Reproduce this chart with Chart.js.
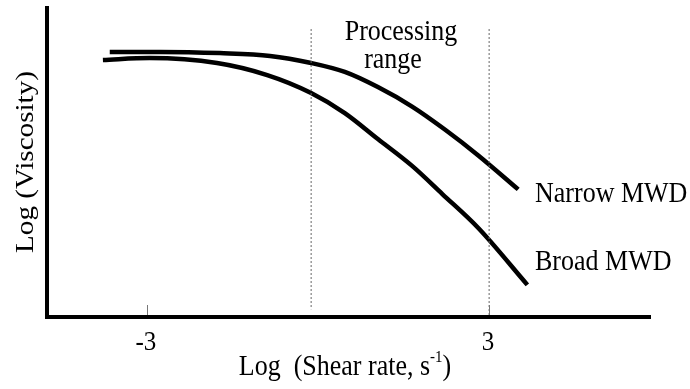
<!DOCTYPE html>
<html>
<head>
<meta charset="utf-8">
<script src="https://cdn.jsdelivr.net/npm/chart.js@4.4.0/dist/chart.umd.min.js"></script>
<style>
html,body{margin:0;padding:0;background:#fff;}
#wrap{width:690px;height:389px;}
</style>
</head>
<body>
<div id="wrap"><canvas id="c" width="690" height="389"></canvas></div>
<script>
// ---- data (log shear rate, log viscosity in arbitrary units) ----
const narrowX = [-3.65, -2.77, -1.72, -0.84, -0.12, 0.47, 1.05, 1.65, 2.23, 2.81, 3.51];
const narrowY = [8.58, 8.58, 8.54, 8.45, 8.22, 7.93, 7.44, 6.81, 6.06, 5.23, 4.13];
const broadX  = [-3.77, -2.95, -1.77, -0.89, -0.12, 0.47, 1.05, 1.65, 2.18, 2.81, 3.67];
const broadY  = [8.32, 8.38, 8.22, 7.83, 7.25, 6.60, 5.76, 4.89, 3.98, 2.88, 1.04];
const rangeBounds = [-0.12, 3.0];
const rangeTop = 9.32;
const tickValues = [-3, 3];
const xMin = -4.75, xMax = 5.82, yMin = 0, yMax = 10;
const labels = {
  xTitle: 'Log  (Shear rate, s',
  xTitleSup: '-1',
  yTitle: 'Log (Viscosity)',
  range1: 'Processing',
  range2: 'range',
  narrow: 'Narrow MWD',
  broad: 'Broad MWD'
};

const pts = (xs, ys) => xs.map((x, i) => ({x, y: ys[i]}));
const FONT = '"Liberation Serif", "Times New Roman", serif';
const STRETCH = 1.12;

function txt(ctx, s, x, y, align, size) {
  ctx.save();
  ctx.font = size + 'px ' + FONT;
  ctx.textAlign = align;
  ctx.translate(x, y);
  ctx.scale(1, STRETCH);
  ctx.fillText(s, 0, 0);
  ctx.restore();
}

const annot = {
  id: 'annot',
  afterDraw(chart) {
    const ctx = chart.ctx;
    const xs = chart.scales.x;
    const ca = chart.chartArea;
    ctx.save();
    // inward tick marks
    ctx.strokeStyle = '#777';
    ctx.lineWidth = 1;
    tickValues.forEach(v => {
      const px = Math.round(xs.getPixelForValue(v)) + 0.5;
      ctx.beginPath();
      ctx.moveTo(px, ca.bottom - 2);
      ctx.lineTo(px, ca.bottom - 12);
      ctx.stroke();
    });
    ctx.fillStyle = '#000';
    ctx.textBaseline = 'alphabetic';
    txt(ctx, labels.range1, 401, 40, 'center', 26);
    txt(ctx, labels.range2, 393, 68, 'center', 26);
    txt(ctx, labels.narrow, 535, 202, 'left', 26);
    txt(ctx, labels.broad, 535, 270, 'left', 26);
    // tick labels
    tickValues.forEach(v => {
      txt(ctx, String(v), xs.getPixelForValue(v) - 1, 350, 'center', 25);
    });
    // x title with superscript
    ctx.font = '26px ' + FONT;
    const w1 = ctx.measureText(labels.xTitle).width;
    ctx.font = '15px ' + FONT;
    const w2 = ctx.measureText(labels.xTitleSup).width;
    ctx.font = '26px ' + FONT;
    const w3 = ctx.measureText(')').width;
    const sx = 345 - (w1 + w2 + w3) / 2;
    txt(ctx, labels.xTitle, sx, 375, 'left', 26);
    txt(ctx, labels.xTitleSup, sx + w1, 362, 'left', 15);
    txt(ctx, ')', sx + w1 + w2, 375, 'left', 26);
    // y title (rotated; stretched along its length)
    ctx.save();
    ctx.translate(33, 162);
    ctx.rotate(-Math.PI / 2);
    ctx.scale(STRETCH, 1);
    ctx.textAlign = 'center';
    ctx.font = '26px ' + FONT;
    ctx.fillText(labels.yTitle, 0, 0);
    ctx.restore();
    ctx.restore();
  }
};

const dotted = {borderColor: '#666', borderWidth: 1, borderDash: [2, 2], pointRadius: 0, fill: false, tension: 0};

new Chart(document.getElementById('c'), {
  type: 'line',
  data: {
    datasets: [
      Object.assign({label: 'lo', data: [{x: rangeBounds[0], y: rangeTop}, {x: rangeBounds[0], y: 0.25}]}, dotted),
      Object.assign({label: 'hi', data: [{x: rangeBounds[1], y: rangeTop}, {x: rangeBounds[1], y: 0}]}, dotted),
      {label: 'Narrow MWD', data: pts(narrowX, narrowY), borderColor: '#000', borderWidth: 4.5, pointRadius: 0, cubicInterpolationMode: 'monotone', fill: false},
      {label: 'Broad MWD', data: pts(broadX, broadY), borderColor: '#000', borderWidth: 4.5, pointRadius: 0, cubicInterpolationMode: 'monotone', fill: false}
    ]
  },
  options: {
    responsive: false,
    animation: false,
    devicePixelRatio: 1,
    layout: {padding: {top: 8, right: 40, left: 0, bottom: 0}},
    plugins: {legend: {display: false}, tooltip: {enabled: false}},
    scales: {
      x: {
        type: 'linear', min: xMin, max: xMax,
        grid: {display: false},
        border: {display: true, color: '#000', width: 4},
        afterBuildTicks: s => { s.ticks = tickValues.map(v => ({value: v})); },
        afterFit: s => { s.height = 72; },
        ticks: {display: false}
      },
      y: {
        type: 'linear', min: yMin, max: yMax,
        grid: {display: false},
        border: {display: true, color: '#000', width: 4},
        ticks: {display: false},
        afterFit: s => { s.width = 47; }
      }
    }
  },
  plugins: [annot]
});
</script>
</body>
</html>
